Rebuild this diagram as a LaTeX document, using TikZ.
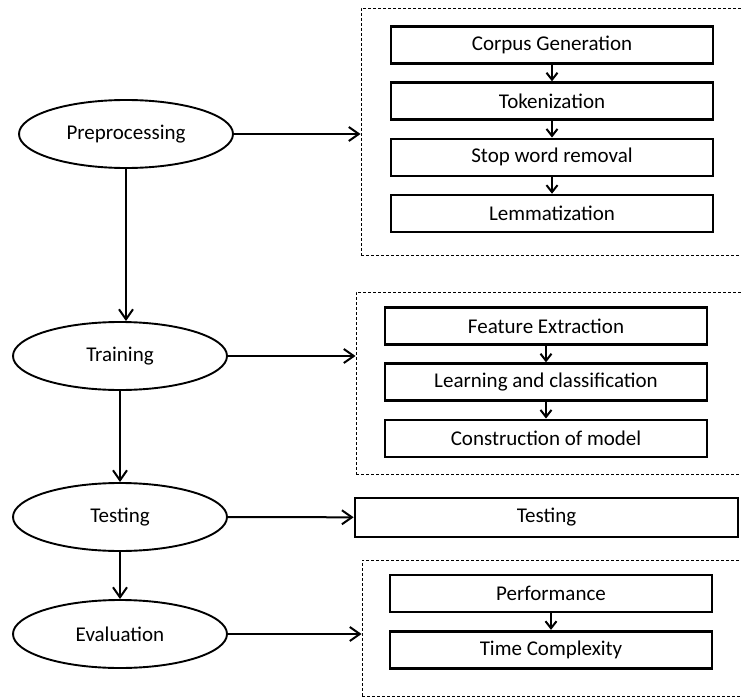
\documentclass[tikz,border=0pt]{standalone}
\usepackage{fontspec}
\setmainfont{Carlito}
\usetikzlibrary{positioning}
\usetikzlibrary{shapes.geometric}
\usetikzlibrary{arrows.meta}
\tikzset{
    process flow/.style={
            x=1pt,y=-1pt,
            node distance=16.5pt,
            font=\fontsize{21}{25}\selectfont,
            stage/.style={ellipse,draw,line width=1.9pt,minimum width=214pt,minimum height=68pt,inner sep=0pt},
            stepbox/.style={rectangle,draw,line width=2.7pt,minimum width=322pt,minimum height=37pt,inner sep=0pt},
            group/.style={rectangle,draw,densely dashed,line width=0.9pt,inner sep=0pt},
            arrow/.style={-{Straight Barb[length=10pt,width=14pt]},line width=2pt},
            substep/.style={-{Straight Barb[length=7pt,width=11pt]},line width=2pt}
        }
    }

\begin{document}
\begin{tikzpicture}[process flow]
    \useasboundingbox (0,0) rectangle (741,698);
    % stages on the left
    \node (Pre) [stage] at (126,134) {Preprocessing};
    \node (Tr) [stage] at (120,356) {Training};
    \node (Te) [stage] at (120,517) {Testing};
    \node (Ev) [stage] at (120,634) {Evaluation};
    \draw [arrow] (Pre) -- (Pre |- Tr.north);
    \draw [arrow] (Tr) -- (Te);
    \draw [arrow] (Te) -- (Ev);
    % preprocessing steps
    \node (PreG) [group, minimum width=399pt, minimum height=247pt] at (560.5,131.5) {};
    \node (CG) [stepbox] at (552,45) {Corpus Generation};
    \node (Tok) [stepbox, below=of CG] {Tokenization};
    \node (SW) [stepbox, below=of Tok] {Stop word removal};
    \node (Lem) [stepbox, below=of SW] {Lemmatization};
    \draw [substep] (CG) -- (Tok);
    \draw [substep] (Tok) -- (SW);
    \draw [substep] (SW) -- (Lem);
    \draw [arrow] (Pre) -- (Pre -| PreG.west);
    % training steps
    \node (TrG) [group, minimum width=404pt, minimum height=182pt] at (558,383) {};
    \node (FE) [stepbox] at (546,326) {Feature Extraction};
    \node (LC) [stepbox, below=of FE] {Learning and classification};
    \node (CM) [stepbox, below=of LC] {Construction of model};
    \draw [substep] (FE) -- (LC);
    \draw [substep] (LC) -- (CM);
    \draw [arrow] (Tr) -- (Tr -| TrG.west);
    % testing
    \node (TeBox) [stepbox, minimum width=383pt, minimum height=39pt] at (546.5,517.5) {Testing};
    \draw [arrow] (Te) -- (TeBox);
    % evaluation steps
    \node (EvG) [group, minimum width=398pt, minimum height=136pt] at (561,628) {};
    \node (Perf) [stepbox] at (551,593.5) {Performance};
    \node (TC) [stepbox, below=of Perf] {Time Complexity};
    \draw [substep] (Perf) -- (TC);
    \draw [arrow] (Ev) -- (Ev -| EvG.west);
\end{tikzpicture}
\end{document}
